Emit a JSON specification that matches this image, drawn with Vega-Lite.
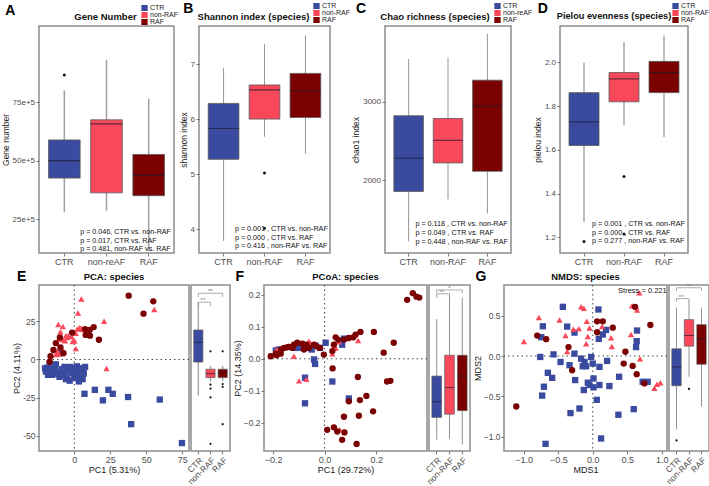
{
"$schema":"https://vega.github.io/schema/vega-lite/v6.json",
"padding":{"left":0,"top":2,"right":0,"bottom":0},
"background":"white",
"datasets":{
"boxA":[{"group":"CTR","lo":27.9,"q1":42.5,"med":50.0,"q3":58.8,"hi":79.9},{"group":"non-RAF","lo":28.6,"q1":36.2,"med":65.7,"q3":67.4,"hi":93.0},{"group":"RAF","lo":11.5,"q1":35.0,"med":43.8,"q3":52.6,"hi":76.4}],
"outA":[{"group":"CTR","v":86.6}],
"pA":[{"group":"CTR","v":19.4,"label":"p = 0.046, CTR vs. non-RAF"},{"group":"CTR","v":15.8,"label":"p = 0.017, CTR vs. RAF"},{"group":"CTR","v":12.3,"label":"p = 0.481, non-RAF vs. RAF"}],
"boxB":[{"group":"CTR","lo":3.79,"q1":5.27,"med":5.83,"q3":6.285,"hi":6.925},{"group":"non-RAF","lo":5.68,"q1":6.0,"med":6.53,"q3":6.62,"hi":7.36},{"group":"RAF","lo":5.37,"q1":6.03,"med":6.51,"q3":6.83,"hi":7.52}],
"outB":[{"group":"non-RAF","v":5.02},{"group":"non-RAF","v":4.02}],
"pB":[{"group":"CTR","v":4.0,"label":"p = 0.001 , CTR vs. non-RAF"},{"group":"CTR","v":3.85,"label":"p = 0.000 , CTR vs. RAF"},{"group":"CTR","v":3.7,"label":"p = 0.416 , non-RAF vs. RAF"}],
"boxC":[{"group":"CTR","lo":1220,"q1":1855,"med":2279,"q3":2820,"hi":3544},{"group":"non-RAF","lo":1755,"q1":2219,"med":2507,"q3":2785,"hi":3566},{"group":"RAF","lo":1575,"q1":2112,"med":2945,"q3":3274,"hi":3866}],
"pC":[{"group":"CTR","v":1434,"label":"p = 0.118 , CTR vs. non-RAF"},{"group":"CTR","v":1327,"label":"p = 0.049 , CTR vs. RAF"},{"group":"CTR","v":1207,"label":"p = 0.448 , non-RAF vs. RAF"}],
"boxD":[{"group":"CTR","lo":1.27,"q1":1.62,"med":1.728,"q3":1.862,"hi":2.0},{"group":"non-RAF","lo":1.713,"q1":1.82,"med":1.925,"q3":1.954,"hi":2.094},{"group":"RAF","lo":1.659,"q1":1.862,"med":1.954,"q3":2.005,"hi":2.124}],
"outD":[{"group":"CTR","v":1.181},{"group":"non-RAF","v":1.478},{"group":"non-RAF","v":1.215}],
"pD":[{"group":"CTR","v":1.263,"label":"p = 0.001 , CTR vs. non-RAF"},{"group":"CTR","v":1.22,"label":"p = 0.000 , CTR vs. RAF"},{"group":"CTR","v":1.181,"label":"p = 0.277 , non-RAF vs. RAF"}],
"boxE":[{"group":"CTR","lo":-23.6,"q1":-1.7,"med":11.2,"q3":19.3,"hi":37.5},{"group":"non-RAF","lo":-14.4,"q1":-11.9,"med":-9.3,"q3":-6.4,"hi":-4.3},{"group":"RAF","lo":-14.0,"q1":-11.9,"med":-8.6,"q3":-6.4,"hi":-4.3}],
"outE":[{"group":"non-RAF","v":5.3},{"group":"non-RAF","v":-16.5},{"group":"non-RAF","v":-19.1},{"group":"non-RAF","v":-24.9},{"group":"non-RAF","v":-55.3},{"group":"RAF","v":5.3},{"group":"RAF","v":-16.1},{"group":"RAF","v":-17.9},{"group":"RAF","v":-42.4}],
"brE":[{"a":"CTR","b":"non-RAF","y":37.5,"y0":35.0,"s":"**"},{"a":"CTR","b":"RAF","y":43.4,"y0":41.0,"s":"**"}],
"boxF":[{"group":"CTR","lo":-0.253,"q1":-0.183,"med":-0.134,"q3":-0.054,"hi":0.124},{"group":"non-RAF","lo":-0.25,"q1":-0.173,"med":-0.09,"q3":0.011,"hi":0.2},{"group":"RAF","lo":-0.268,"q1":-0.162,"med":-0.054,"q3":0.011,"hi":0.19}],
"brF":[{"a":"CTR","b":"non-RAF","y":0.203,"y0":0.19,"s":"**"},{"a":"CTR","b":"RAF","y":0.215,"y0":0.205,"s":"*"}],
"boxG":[{"group":"CTR","lo":-0.91,"q1":-0.368,"med":-0.135,"q3":0.089,"hi":0.6},{"group":"non-RAF","lo":-0.257,"q1":0.122,"med":0.254,"q3":0.45,"hi":0.683},{"group":"RAF","lo":-0.625,"q1":-0.102,"med":0.212,"q3":0.388,"hi":0.6}],
"outG":[{"group":"CTR","v":-1.045},{"group":"non-RAF","v":-0.408}],
"brG":[{"a":"CTR","b":"non-RAF","y":0.71,"y0":0.67,"s":"**"},{"a":"CTR","b":"RAF","y":0.845,"y0":0.805,"s":"**"}],
"scE":[
{"g":"CTR","x":-20.3,"y":-5.8},{"g":"CTR","x":-18.6,"y":-5.4},{"g":"CTR","x":-19.7,"y":-7.9},{"g":"CTR","x":-17.7,"y":-7.1},{"g":"CTR","x":-16.5,"y":-8.6},{"g":"CTR","x":-15.2,"y":-6.6},{"g":"CTR","x":-14.5,"y":-9.2},{"g":"CTR","x":-13.5,"y":-5.8},{"g":"CTR","x":-12.2,"y":-7.9},{"g":"CTR","x":-11.3,"y":-9.6},{"g":"CTR","x":-10.3,"y":-11.4},{"g":"CTR","x":-9.6,"y":4.1},{"g":"CTR","x":-8.5,"y":-6.4},{"g":"CTR","x":-7.7,"y":-8.6},{"g":"CTR","x":-6.8,"y":-4.9},{"g":"CTR","x":-6.2,"y":-10.1},{"g":"CTR","x":-4.9,"y":-11.8},{"g":"CTR","x":-4.1,"y":-7.1},{"g":"CTR","x":-2.8,"y":-4.9},{"g":"CTR","x":-1.5,"y":-8.8},{"g":"CTR","x":-0.6,"y":-5.8},{"g":"CTR","x":0.9,"y":-10.1},{"g":"CTR","x":1.9,"y":-4.5},{"g":"CTR","x":2.8,"y":-7.5},{"g":"CTR","x":3.6,"y":-11.8},{"g":"CTR","x":4.9,"y":-8.4},{"g":"CTR","x":6.0,"y":-5.8},{"g":"CTR","x":6.6,"y":-9.2},{"g":"CTR","x":7.5,"y":-4.9},{"g":"CTR","x":3.2,"y":-14.4},{"g":"CTR","x":7.1,"y":-22.5},{"g":"CTR","x":14.3,"y":-19.9},{"g":"CTR","x":19.9,"y":-26.8},{"g":"CTR","x":23.7,"y":-19.9},{"g":"CTR","x":26.7,"y":-22.5},{"g":"CTR","x":37.4,"y":-24.6},{"g":"CTR","x":59.4,"y":-26.3},{"g":"CTR","x":39.5,"y":-42.4},{"g":"CTR","x":74.8,"y":-54.8},{"g":"CTR","x":-17.1,"y":-3.2},{"g":"CTR","x":-15.6,"y":-10.1},{"g":"CTR","x":-12.8,"y":-3.2},{"g":"CTR","x":-5.8,"y":-12.9},{"g":"CTR","x":-3.2,"y":-13.9},{"g":"CTR","x":0.0,"y":-12.2},{"g":"CTR","x":5.8,"y":-12.9},{"g":"CTR","x":-9.6,"y":-10.1},{"g":"CTR","x":-18.2,"y":-10.1},
{"g":"non-RAF","x":4.9,"y":39.6},{"g":"non-RAF","x":2.6,"y":30.4},{"g":"non-RAF","x":20.7,"y":25.1},{"g":"non-RAF","x":-11.1,"y":22.9},{"g":"non-RAF","x":-7.9,"y":21.6},{"g":"non-RAF","x":3.8,"y":21.0},{"g":"non-RAF","x":2.1,"y":19.9},{"g":"non-RAF","x":4.9,"y":20.3},{"g":"non-RAF","x":5.8,"y":19.7},{"g":"non-RAF","x":1.1,"y":17.1},{"g":"non-RAF","x":-4.1,"y":15.6},{"g":"non-RAF","x":-4.9,"y":14.4},{"g":"non-RAF","x":-1.9,"y":15.0},{"g":"non-RAF","x":0.2,"y":12.2},{"g":"non-RAF","x":-9.6,"y":18.2},{"g":"non-RAF","x":-10.7,"y":13.5},{"g":"non-RAF","x":-7.9,"y":12.9},{"g":"non-RAF","x":-6.4,"y":12.2},{"g":"non-RAF","x":-13.9,"y":6.4},{"g":"non-RAF","x":-11.8,"y":5.4},{"g":"non-RAF","x":-9.6,"y":7.5},{"g":"non-RAF","x":-7.5,"y":5.4},{"g":"non-RAF","x":-12.8,"y":3.2},{"g":"non-RAF","x":-10.7,"y":3.6},{"g":"non-RAF","x":1.1,"y":7.1},{"g":"non-RAF","x":22.4,"y":-6.0},{"g":"non-RAF","x":55.6,"y":32.8},{"g":"non-RAF","x":-1.1,"y":11.8},{"g":"non-RAF","x":-5.8,"y":15.6},
{"g":"RAF","x":-1.5,"y":17.6},{"g":"RAF","x":7.5,"y":19.9},{"g":"RAF","x":10.7,"y":19.3},{"g":"RAF","x":13.5,"y":21.2},{"g":"RAF","x":7.9,"y":16.1},{"g":"RAF","x":10.9,"y":15.6},{"g":"RAF","x":17.1,"y":12.9},{"g":"RAF","x":-10.0,"y":14.4},{"g":"RAF","x":-12.8,"y":10.7},{"g":"RAF","x":-9.6,"y":7.9},{"g":"RAF","x":-14.5,"y":6.2},{"g":"RAF","x":-16.5,"y":2.1},{"g":"RAF","x":-17.1,"y":-1.5},{"g":"RAF","x":-7.5,"y":4.1},{"g":"RAF","x":37.8,"y":41.8},{"g":"RAF","x":48.1,"y":30.0},{"g":"RAF","x":54.9,"y":38.1}],
"scF":[
{"g":"CTR","x":-0.189,"y":0.026},{"g":"CTR","x":-0.177,"y":0.029},{"g":"CTR","x":-0.112,"y":0.034},{"g":"CTR","x":-0.099,"y":0.036},{"g":"CTR","x":-0.073,"y":0.034},{"g":"CTR","x":-0.054,"y":0.042},{"g":"CTR","x":-0.035,"y":0.041},{"g":"CTR","x":-0.018,"y":0.034},{"g":"CTR","x":-0.041,"y":-0.002},{"g":"CTR","x":-0.037,"y":-0.016},{"g":"CTR","x":-0.076,"y":-0.059},{"g":"CTR","x":-0.076,"y":-0.139},{"g":"CTR","x":0.030,"y":-0.071},{"g":"CTR","x":0.094,"y":-0.124},{"g":"CTR","x":0.075,"y":0.063},{"g":"CTR","x":0.068,"y":0.044},{"g":"CTR","x":0.004,"y":0.050},{"g":"CTR","x":-0.086,"y":0.034},{"g":"CTR","x":-0.050,"y":0.029},
{"g":"non-RAF","x":-0.186,"y":0.029},{"g":"non-RAF","x":-0.168,"y":0.034},{"g":"non-RAF","x":-0.141,"y":0.040},{"g":"non-RAF","x":-0.119,"y":0.008},{"g":"non-RAF","x":-0.099,"y":-0.069},{"g":"non-RAF","x":-0.071,"y":-0.064},{"g":"non-RAF","x":-0.061,"y":0.055},{"g":"non-RAF","x":-0.057,"y":0.050},{"g":"non-RAF","x":0.036,"y":0.036},{"g":"non-RAF","x":0.055,"y":0.053},{"g":"non-RAF","x":0.130,"y":0.057},{"g":"non-RAF","x":0.059,"y":-0.222},{"g":"non-RAF","x":0.043,"y":0.034},{"g":"non-RAF","x":0.030,"y":0.016},
{"g":"RAF","x":-0.209,"y":0.008},{"g":"RAF","x":-0.189,"y":0.016},{"g":"RAF","x":-0.186,"y":0.011},{"g":"RAF","x":-0.168,"y":0.029},{"g":"RAF","x":-0.157,"y":0.034},{"g":"RAF","x":-0.144,"y":0.036},{"g":"RAF","x":-0.138,"y":0.037},{"g":"RAF","x":-0.119,"y":0.044},{"g":"RAF","x":-0.106,"y":0.050},{"g":"RAF","x":-0.086,"y":0.047},{"g":"RAF","x":-0.080,"y":0.029},{"g":"RAF","x":-0.070,"y":0.044},{"g":"RAF","x":-0.061,"y":0.034},{"g":"RAF","x":-0.041,"y":0.044},{"g":"RAF","x":-0.031,"y":0.039},{"g":"RAF","x":-0.018,"y":0.034},{"g":"RAF","x":-0.003,"y":0.013},{"g":"RAF","x":0.030,"y":0.024},{"g":"RAF","x":0.036,"y":0.044},{"g":"RAF","x":0.043,"y":0.067},{"g":"RAF","x":0.052,"y":0.060},{"g":"RAF","x":0.075,"y":0.060},{"g":"RAF","x":0.094,"y":0.065},{"g":"RAF","x":0.111,"y":0.067},{"g":"RAF","x":0.120,"y":0.075},{"g":"RAF","x":0.139,"y":0.084},{"g":"RAF","x":0.191,"y":0.084},{"g":"RAF","x":0.229,"y":0.019},{"g":"RAF","x":0.268,"y":0.050},{"g":"RAF","x":0.242,"y":-0.071},{"g":"RAF","x":0.255,"y":-0.069},{"g":"RAF","x":0.320,"y":0.184},{"g":"RAF","x":0.342,"y":0.205},{"g":"RAF","x":0.356,"y":0.194},{"g":"RAF","x":0.367,"y":0.191},{"g":"RAF","x":0.031,"y":-0.030},{"g":"RAF","x":0.010,"y":-0.222},{"g":"RAF","x":0.036,"y":-0.214},{"g":"RAF","x":0.049,"y":-0.227},{"g":"RAF","x":0.075,"y":-0.181},{"g":"RAF","x":0.068,"y":-0.253},{"g":"RAF","x":0.077,"y":-0.230},{"g":"RAF","x":0.124,"y":-0.266},{"g":"RAF","x":0.094,"y":-0.133},{"g":"RAF","x":0.129,"y":-0.057},{"g":"RAF","x":0.137,"y":-0.129},{"g":"RAF","x":0.162,"y":-0.116},{"g":"RAF","x":0.133,"y":-0.178},{"g":"RAF","x":0.188,"y":-0.164},{"g":"RAF","x":-0.170,"y":0.016},{"g":"RAF","x":-0.125,"y":0.034}],
"scG":[
{"g":"CTR","x":-0.434,"y":0.609},{"g":"CTR","x":0.082,"y":0.576},{"g":"CTR","x":-0.723,"y":0.368},{"g":"CTR","x":-0.747,"y":0.233},{"g":"CTR","x":-0.371,"y":0.364},{"g":"CTR","x":-0.265,"y":0.290},{"g":"CTR","x":0.087,"y":0.212},{"g":"CTR","x":0.145,"y":0.266},{"g":"CTR","x":0.193,"y":0.323},{"g":"CTR","x":0.641,"y":0.315},{"g":"CTR","x":0.636,"y":0.184},{"g":"CTR","x":0.627,"y":0.110},{"g":"CTR","x":-0.761,"y":-0.012},{"g":"CTR","x":-0.569,"y":0.020},{"g":"CTR","x":-0.265,"y":0.029},{"g":"CTR","x":-0.169,"y":-0.033},{"g":"CTR","x":-0.024,"y":-0.012},{"g":"CTR","x":-0.120,"y":-0.074},{"g":"CTR","x":-0.145,"y":-0.127},{"g":"CTR","x":-0.337,"y":-0.114},{"g":"CTR","x":-0.467,"y":-0.074},{"g":"CTR","x":-0.651,"y":-0.208},{"g":"CTR","x":-0.588,"y":-0.270},{"g":"CTR","x":-0.708,"y":-0.380},{"g":"CTR","x":-0.733,"y":-0.490},{"g":"CTR","x":-0.255,"y":-0.298},{"g":"CTR","x":-0.130,"y":-0.421},{"g":"CTR","x":-0.072,"y":-0.331},{"g":"CTR","x":-0.048,"y":-0.359},{"g":"CTR","x":0.010,"y":-0.278},{"g":"CTR","x":0.010,"y":-0.388},{"g":"CTR","x":0.096,"y":-0.135},{"g":"CTR","x":0.096,"y":-0.359},{"g":"CTR","x":0.207,"y":-0.061},{"g":"CTR","x":0.241,"y":-0.372},{"g":"CTR","x":0.381,"y":-0.257},{"g":"CTR","x":0.723,"y":-0.319},{"g":"CTR","x":0.795,"y":-0.319},{"g":"CTR","x":0.593,"y":-0.658},{"g":"CTR","x":0.371,"y":-0.727},{"g":"CTR","x":0.058,"y":-0.543},{"g":"CTR","x":-0.193,"y":-0.650},{"g":"CTR","x":-0.323,"y":-0.707},{"g":"CTR","x":0.120,"y":-1.021},{"g":"CTR","x":-0.684,"y":-1.087},{"g":"CTR","x":-0.096,"y":-0.127},{"g":"CTR","x":0.0,"y":-0.094},
{"g":"non-RAF","x":-0.998,"y":0.180},{"g":"non-RAF","x":-0.781,"y":0.478},{"g":"non-RAF","x":-0.482,"y":0.445},{"g":"non-RAF","x":-0.395,"y":0.253},{"g":"non-RAF","x":-0.371,"y":0.057},{"g":"non-RAF","x":-0.280,"y":0.331},{"g":"non-RAF","x":-0.202,"y":0.339},{"g":"non-RAF","x":-0.169,"y":0.609},{"g":"non-RAF","x":-0.130,"y":0.592},{"g":"non-RAF","x":-0.087,"y":0.429},{"g":"non-RAF","x":-0.048,"y":0.347},{"g":"non-RAF","x":-0.096,"y":0.151},{"g":"non-RAF","x":-0.072,"y":0.241},{"g":"non-RAF","x":0.135,"y":0.364},{"g":"non-RAF","x":0.265,"y":0.225},{"g":"non-RAF","x":0.275,"y":0.118},{"g":"non-RAF","x":0.554,"y":0.266},{"g":"non-RAF","x":0.569,"y":0.621},{"g":"non-RAF","x":0.627,"y":0.609},{"g":"non-RAF","x":0.684,"y":-0.033},{"g":"non-RAF","x":0.892,"y":-0.400},{"g":"non-RAF","x":0.930,"y":-0.351},{"g":"non-RAF","x":0.978,"y":-0.331},{"g":"non-RAF","x":0.675,"y":0.784},{"g":"non-RAF","x":0.641,"y":0.568},
{"g":"RAF","x":-0.805,"y":0.253},{"g":"RAF","x":-0.675,"y":0.208},{"g":"RAF","x":-0.352,"y":0.110},{"g":"RAF","x":-0.299,"y":-0.176},{"g":"RAF","x":0.063,"y":0.429},{"g":"RAF","x":0.145,"y":0.429},{"g":"RAF","x":0.289,"y":0.351},{"g":"RAF","x":0.063,"y":0.294},{"g":"RAF","x":0.472,"y":0.053},{"g":"RAF","x":0.448,"y":-0.094},{"g":"RAF","x":0.578,"y":-0.123},{"g":"RAF","x":0.636,"y":-0.225},{"g":"RAF","x":0.747,"y":-0.339},{"g":"RAF","x":0.612,"y":0.609},{"g":"RAF","x":0.834,"y":0.384},{"g":"RAF","x":-1.108,"y":-0.625}]
},
"vconcat":[
{"hconcat":[
 {"title":{"text":"A","anchor":"start","frame":"bounds","offset":-13,"dx":5,"fontSize":14,"fontWeight":"bold","color":"#000"},
  "hconcat":[{"width":135,"height":227,"title":{"text":"Gene Number","anchor":"middle","dx":-1},
  "layer":[
   {"data":{"name":"boxA"},"mark":{"type":"rule","color":"#a0a0a0","strokeWidth":1.5},
    "encoding":{"x":{"field":"group","type":"nominal","sort":null,"scale":{"domain":["CTR","non-RAF","RAF"],"paddingInner":0.25,"paddingOuter":0.225},"axis":{"title":null,"labelAngle":0,"labelFontSize":9,"labelExpr":"datum.value == 'non-RAF' ? 'non-reAF' : datum.value"}},
     "y":{"field":"lo","type":"quantitative","scale":{"domain":[10.5,107.5],"nice":false,"zero":false},"axis":{"title":"Gene number","values":[25,50,75],"labelExpr":"datum.value + 'e+5'"}},
     "y2":{"field":"hi"}}},
   {"data":{"name":"boxA"},"mark":{"type":"bar","stroke":"#5a5a5a","strokeWidth":0.8},
    "encoding":{"x":{"field":"group","type":"nominal","sort":null},"y":{"field":"q1","type":"quantitative"},"y2":{"field":"q3"},
     "color":{"field":"group","type":"nominal","sort":null,"scale":{"domain":["CTR","non-RAF","RAF"],"range":["#3A4A9F","#F9485A","#7B0000"]},
      "legend":{"title":null,"orient":"none","legendX":102,"legendY":-21,"symbolType":"square","symbolSize":40,"symbolStrokeWidth":0,"labelFontSize":7,"labelColor":"#222","clipHeight":6,"rowPadding":0,"labelOffset":2,"padding":0}}}},
   {"data":{"name":"boxA"},"mark":{"type":"tick","color":"#1b1b2f","thickness":1.3,"size":31.6},
    "encoding":{"x":{"field":"group","type":"nominal","sort":null},"y":{"field":"med","type":"quantitative"}}},
   {"data":{"name":"outA"},"mark":{"type":"circle","size":9,"color":"#111","opacity":1},
    "encoding":{"x":{"field":"group","type":"nominal","sort":null},"y":{"field":"v","type":"quantitative"}}},
   {"data":{"name":"pA"},"mark":{"type":"text","align":"left","baseline":"middle","fontSize":7.2,"fill":"#111","dx":0},
    "encoding":{"x":{"field":"group","type":"nominal","sort":null,"bandPosition":1},"y":{"field":"v","type":"quantitative"},"text":{"field":"label"}}}
  ]}]},
 {"title":{"text":"B","anchor":"start","frame":"bounds","offset":-13,"dx":5,"fontSize":14,"fontWeight":"bold","color":"#000"},
  "hconcat":[{"width":131,"height":227,"title":{"text":"Shannon index (species)","anchor":"middle","dx":-11},
  "layer":[
   {"data":{"name":"boxB"},"mark":{"type":"rule","color":"#8a8a8a","strokeWidth":0.9},
    "encoding":{"x":{"field":"group","type":"nominal","sort":null,"scale":{"domain":["CTR","non-RAF","RAF"],"paddingInner":0.25,"paddingOuter":0.225},"axis":{"title":null,"labelAngle":0,"labelFontSize":9}},
     "y":{"field":"lo","type":"quantitative","scale":{"domain":[3.57,7.69],"nice":false,"zero":false},"axis":{"title":"shannon index","values":[4,5,6,7],"format":"d"}},
     "y2":{"field":"hi"}}},
   {"data":{"name":"boxB"},"mark":{"type":"bar","stroke":"#5a5a5a","strokeWidth":0.8},
    "encoding":{"x":{"field":"group","type":"nominal","sort":null},"y":{"field":"q1","type":"quantitative"},"y2":{"field":"q3"},
     "color":{"field":"group","type":"nominal","sort":null,"scale":{"domain":["CTR","non-RAF","RAF"],"range":["#3A4A9F","#F9485A","#7B0000"]},
      "legend":{"title":null,"orient":"none","legendX":114,"legendY":-23,"symbolType":"square","symbolSize":40,"symbolStrokeWidth":0,"labelFontSize":7,"labelColor":"#222","clipHeight":6,"rowPadding":0,"labelOffset":2,"padding":0}}}},
   {"data":{"name":"boxB"},"mark":{"type":"tick","color":"#1b1b2f","thickness":1.1,"size":30.7},
    "encoding":{"x":{"field":"group","type":"nominal","sort":null},"y":{"field":"med","type":"quantitative"}}},
   {"data":{"name":"outB"},"mark":{"type":"circle","size":9,"color":"#111","opacity":1},
    "encoding":{"x":{"field":"group","type":"nominal","sort":null},"y":{"field":"v","type":"quantitative"}}},
   {"data":{"name":"pB"},"mark":{"type":"text","align":"left","baseline":"middle","fontSize":7.2,"fill":"#111","dx":-4},
    "encoding":{"x":{"field":"group","type":"nominal","sort":null,"bandPosition":1},"y":{"field":"v","type":"quantitative"},"text":{"field":"label"}}}
  ]}]},
 {"title":{"text":"C","anchor":"start","frame":"bounds","offset":-13,"dx":5,"fontSize":14,"fontWeight":"bold","color":"#000"},
  "hconcat":[{"width":126,"height":227,"title":{"text":"Chao richness (species)","anchor":"middle","dx":-13},
  "layer":[
   {"data":{"name":"boxC"},"mark":{"type":"rule","color":"#8a8a8a","strokeWidth":0.9},
    "encoding":{"x":{"field":"group","type":"nominal","sort":null,"scale":{"domain":["CTR","non-RAF","RAF"],"paddingInner":0.25,"paddingOuter":0.225},"axis":{"title":null,"labelAngle":0,"labelFontSize":9}},
     "y":{"field":"lo","type":"quantitative","scale":{"domain":[1070,3965],"nice":false,"zero":false},"axis":{"title":"chao1 index","values":[2000,3000],"format":"d"}},
     "y2":{"field":"hi"}}},
   {"data":{"name":"boxC"},"mark":{"type":"bar","stroke":"#5a5a5a","strokeWidth":0.8},
    "encoding":{"x":{"field":"group","type":"nominal","sort":null},"y":{"field":"q1","type":"quantitative"},"y2":{"field":"q3"},
     "color":{"field":"group","type":"nominal","sort":null,"scale":{"domain":["CTR","non-RAF","RAF"],"range":["#3A4A9F","#F9485A","#7B0000"]},
      "legend":{"title":null,"orient":"none","legendX":109,"legendY":-23,"symbolType":"square","symbolSize":40,"symbolStrokeWidth":0,"labelFontSize":7,"labelColor":"#222","clipHeight":6,"rowPadding":0,"labelOffset":2,"padding":0,"labelExpr":"datum.value == 'non-RAF' ? 'non-reAF' : datum.value"}}}},
   {"data":{"name":"boxC"},"mark":{"type":"tick","color":"#1b1b2f","thickness":1.1,"size":29.5},
    "encoding":{"x":{"field":"group","type":"nominal","sort":null},"y":{"field":"med","type":"quantitative"}}},
   {"data":{"name":"pC"},"mark":{"type":"text","align":"left","baseline":"middle","fontSize":7.2,"fill":"#111","dx":-8},
    "encoding":{"x":{"field":"group","type":"nominal","sort":null,"bandPosition":1},"y":{"field":"v","type":"quantitative"},"text":{"field":"label"}}}
  ]}]},
 {"title":{"text":"D","anchor":"start","frame":"bounds","offset":-13,"dx":5,"fontSize":14,"fontWeight":"bold","color":"#000"},
  "hconcat":[{"width":128,"height":227,"title":{"text":"Pielou evenness (species)","anchor":"middle","dx":-10,"fontSize":9.2},
  "layer":[
   {"data":{"name":"boxD"},"mark":{"type":"rule","color":"#a8a8a8","strokeWidth":1.5},
    "encoding":{"x":{"field":"group","type":"nominal","sort":null,"scale":{"domain":["CTR","non-RAF","RAF"],"paddingInner":0.25,"paddingOuter":0.225},"axis":{"title":null,"labelAngle":0,"labelFontSize":9}},
     "y":{"field":"lo","type":"quantitative","scale":{"domain":[1.128,2.167],"nice":false,"zero":false},"axis":{"title":"pielou index","values":[1.2,1.4,1.6,1.8,2.0],"format":".1f"}},
     "y2":{"field":"hi"}}},
   {"data":{"name":"boxD"},"mark":{"type":"bar","stroke":"#5a5a5a","strokeWidth":0.8},
    "encoding":{"x":{"field":"group","type":"nominal","sort":null},"y":{"field":"q1","type":"quantitative"},"y2":{"field":"q3"},
     "color":{"field":"group","type":"nominal","sort":null,"scale":{"domain":["CTR","non-RAF","RAF"],"range":["#3A4A9F","#F9485A","#7B0000"]},
      "legend":{"title":null,"orient":"none","legendX":112,"legendY":-23,"symbolType":"square","symbolSize":40,"symbolStrokeWidth":0,"labelFontSize":7,"labelColor":"#222","clipHeight":6,"rowPadding":0,"labelOffset":2,"padding":0}}}},
   {"data":{"name":"boxD"},"mark":{"type":"tick","color":"#1b1b2f","thickness":1.1,"size":30},
    "encoding":{"x":{"field":"group","type":"nominal","sort":null},"y":{"field":"med","type":"quantitative"}}},
   {"data":{"name":"outD"},"mark":{"type":"circle","size":9,"color":"#111","opacity":1},
    "encoding":{"x":{"field":"group","type":"nominal","sort":null},"y":{"field":"v","type":"quantitative"}}},
   {"data":{"name":"pD"},"mark":{"type":"text","align":"left","baseline":"middle","fontSize":7.2,"fill":"#111","dx":-7},
    "encoding":{"x":{"field":"group","type":"nominal","sort":null,"bandPosition":1},"y":{"field":"v","type":"quantitative"},"text":{"field":"label"}}}
  ]}]}
 ],"spacing":-1,"resolve":{"scale":{"color":"independent"},"legend":{"color":"independent"}}},
{"hconcat":[
 {"title":{"text":"E","anchor":"start","frame":"bounds","offset":-13,"dx":5,"fontSize":14,"fontWeight":"bold","color":"#000"},
  "spacing":-22,
  "hconcat":[
   {"width":150,"height":166,"title":{"text":"PCA: species","anchor":"middle","offset":3},
    "layer":[
     {"data":{"values":[{"z":0}]},"mark":{"type":"rule","color":"#444","strokeDash":[1.5,3],"strokeWidth":1},
      "encoding":{"x":{"field":"z","type":"quantitative","scale":{"domain":[-24.5,79.7],"nice":false,"zero":false},"axis":{"title":"PC1 (5.31%)","values":[0,25,50,75],"labelFontSize":9,"titleFontSize":9,"labelPadding":1,"titlePadding":1}}}},
     {"data":{"values":[{"z":0}]},"mark":{"type":"rule","color":"#444","strokeDash":[1.5,3],"strokeWidth":1},
      "encoding":{"y":{"field":"z","type":"quantitative","scale":{"domain":[-60,48.8],"nice":false,"zero":false},"axis":{"title":"PC2 (4.11%)","values":[-50,-25,0,25],"labelExpr":"replace(datum.label, '−', '-')","labelFontSize":8.5,"titleFontSize":9,"labelPadding":1,"titlePadding":1}}}},
     {"data":{"name":"scE"},"mark":{"type":"point","filled":true,"size":40,"opacity":1},
      "encoding":{"x":{"field":"x","type":"quantitative"},"y":{"field":"y","type":"quantitative"},
       "color":{"field":"g","type":"nominal","scale":{"domain":["CTR","non-RAF","RAF"],"range":["#3A4A9F","#F9485A","#7B0000"]},"legend":null},
       "shape":{"field":"g","type":"nominal","scale":{"domain":["CTR","non-RAF","RAF"],"range":["square","triangle-up","circle"]},"legend":null}}}
    ]},
   {"width":39,"height":166,
    "layer":[
     {"data":{"name":"boxE"},"mark":{"type":"rule","color":"#a0a0a0","strokeWidth":1.3},
      "encoding":{"x":{"field":"group","type":"nominal","sort":null,"scale":{"domain":["CTR","non-RAF","RAF"],"paddingInner":0.25,"paddingOuter":0.225},"axis":{"title":null,"labelAngle":-45,"labelFontSize":8.5}},
       "y":{"field":"lo","type":"quantitative","scale":{"domain":[-60,48.8],"nice":false,"zero":false},"axis":null},"y2":{"field":"hi"}}},
     {"data":{"name":"boxE"},"mark":{"type":"bar","stroke":"#5a5a5a","strokeWidth":0.7},
      "encoding":{"x":{"field":"group","type":"nominal","sort":null},"y":{"field":"q1","type":"quantitative","axis":null},"y2":{"field":"q3"},
       "color":{"field":"group","type":"nominal","scale":{"domain":["CTR","non-RAF","RAF"],"range":["#3A4A9F","#F9485A","#7B0000"]},"legend":null}}},
     {"data":{"name":"boxE"},"mark":{"type":"tick","color":"#1b1b2f","thickness":1,"size":9.2},
      "encoding":{"x":{"field":"group","type":"nominal","sort":null},"y":{"field":"med","type":"quantitative","axis":null}}},
     {"data":{"name":"outE"},"mark":{"type":"circle","size":5,"color":"#111","opacity":1},
      "encoding":{"x":{"field":"group","type":"nominal","sort":null},"y":{"field":"v","type":"quantitative","axis":null}}},
     {"data":{"name":"brE"},"mark":{"type":"rule","color":"#888","strokeWidth":0.7},
      "encoding":{"x":{"field":"a","type":"nominal"},"x2":{"field":"b"},"y":{"field":"y","type":"quantitative","axis":null}}},
     {"data":{"name":"brE"},"mark":{"type":"rule","color":"#888","strokeWidth":0.7},
      "encoding":{"x":{"field":"a","type":"nominal"},"y":{"field":"y","type":"quantitative","axis":null},"y2":{"field":"y0"}}},
     {"data":{"name":"brE"},"mark":{"type":"rule","color":"#888","strokeWidth":0.7},
      "encoding":{"x":{"field":"b","type":"nominal"},"y":{"field":"y","type":"quantitative","axis":null},"y2":{"field":"y0"}}},
     {"data":{"name":"brE"},"transform":[{"filter":"datum.b == 'non-RAF'"}],"mark":{"type":"text","baseline":"bottom","fontSize":6,"fill":"#777","dy":1},
      "encoding":{"x":{"field":"a","type":"nominal","bandPosition":1},"y":{"field":"y","type":"quantitative","axis":null},"text":{"field":"s"}}},
     {"data":{"name":"brE"},"transform":[{"filter":"datum.b == 'RAF'"}],"mark":{"type":"text","baseline":"bottom","fontSize":6,"fill":"#777","dy":1},
      "encoding":{"x":{"datum":"non-RAF","type":"nominal"},"y":{"field":"y","type":"quantitative","axis":null},"text":{"field":"s"}}}
    ]}
  ]},
 {"title":{"text":"F","anchor":"start","frame":"bounds","offset":-13,"dx":3,"fontSize":14,"fontWeight":"bold","color":"#000"},
  "spacing":-22,
  "hconcat":[
   {"width":163,"height":166,"title":{"text":"PCoA: species","anchor":"middle","offset":3},
    "layer":[
     {"data":{"values":[{"z":0}]},"mark":{"type":"rule","color":"#444","strokeDash":[1.5,3],"strokeWidth":1},
      "encoding":{"x":{"field":"z","type":"quantitative","scale":{"domain":[-0.235,0.397],"nice":false,"zero":false},"axis":{"title":"PC1 (29.72%)","values":[-0.2,0,0.2],"format":".1f","labelFontSize":9,"titleFontSize":9,"labelPadding":1,"titlePadding":1}}}},
     {"data":{"values":[{"z":0}]},"mark":{"type":"rule","color":"#444","strokeDash":[1.5,3],"strokeWidth":1},
      "encoding":{"y":{"field":"z","type":"quantitative","scale":{"domain":[-0.288,0.2304],"nice":false,"zero":false},"axis":{"title":"PC2 (14.35%)","values":[-0.2,-0.1,0,0.1,0.2],"format":".1f","labelFontSize":8.5,"titleFontSize":9,"labelPadding":1,"titlePadding":1}}}},
     {"data":{"name":"scF"},"mark":{"type":"point","filled":true,"size":40,"opacity":1},
      "encoding":{"x":{"field":"x","type":"quantitative"},"y":{"field":"y","type":"quantitative"},
       "color":{"field":"g","type":"nominal","scale":{"domain":["CTR","non-RAF","RAF"],"range":["#3A4A9F","#F9485A","#7B0000"]},"legend":null},
       "shape":{"field":"g","type":"nominal","scale":{"domain":["CTR","non-RAF","RAF"],"range":["square","triangle-up","circle"]},"legend":null}}}
    ]},
   {"width":41,"height":166,
    "layer":[
     {"data":{"name":"boxF"},"mark":{"type":"rule","color":"#777","strokeWidth":0.8},
      "encoding":{"x":{"field":"group","type":"nominal","sort":null,"scale":{"domain":["CTR","non-RAF","RAF"],"paddingInner":0.25,"paddingOuter":0.225},"axis":{"title":null,"labelAngle":-45,"labelFontSize":8.5}},
       "y":{"field":"lo","type":"quantitative","scale":{"domain":[-0.288,0.2304],"nice":false,"zero":false},"axis":null},"y2":{"field":"hi"}}},
     {"data":{"name":"boxF"},"mark":{"type":"bar","stroke":"#5a5a5a","strokeWidth":0.7},
      "encoding":{"x":{"field":"group","type":"nominal","sort":null},"y":{"field":"q1","type":"quantitative","axis":null},"y2":{"field":"q3"},
       "color":{"field":"group","type":"nominal","scale":{"domain":["CTR","non-RAF","RAF"],"range":["#3A4A9F","#F9485A","#7B0000"]},"legend":null}}},
     {"data":{"name":"boxF"},"mark":{"type":"tick","color":"#1b1b2f","thickness":1,"size":9.6},
      "encoding":{"x":{"field":"group","type":"nominal","sort":null},"y":{"field":"med","type":"quantitative","axis":null}}},
     {"data":{"name":"brF"},"mark":{"type":"rule","color":"#888","strokeWidth":0.7},
      "encoding":{"x":{"field":"a","type":"nominal"},"x2":{"field":"b"},"y":{"field":"y","type":"quantitative","axis":null}}},
     {"data":{"name":"brF"},"mark":{"type":"rule","color":"#888","strokeWidth":0.7},
      "encoding":{"x":{"field":"a","type":"nominal"},"y":{"field":"y","type":"quantitative","axis":null},"y2":{"field":"y0"}}},
     {"data":{"name":"brF"},"mark":{"type":"rule","color":"#888","strokeWidth":0.7},
      "encoding":{"x":{"field":"b","type":"nominal"},"y":{"field":"y","type":"quantitative","axis":null},"y2":{"field":"y0"}}},
     {"data":{"name":"brF"},"transform":[{"filter":"datum.b == 'non-RAF'"}],"mark":{"type":"text","baseline":"bottom","fontSize":6,"fill":"#777","dy":1},
      "encoding":{"x":{"field":"a","type":"nominal","bandPosition":1},"y":{"field":"y","type":"quantitative","axis":null},"text":{"field":"s"}}},
     {"data":{"name":"brF"},"transform":[{"filter":"datum.b == 'RAF'"}],"mark":{"type":"text","baseline":"bottom","fontSize":6,"fill":"#777","dy":1},
      "encoding":{"x":{"datum":"non-RAF","type":"nominal"},"y":{"field":"y","type":"quantitative","axis":null},"text":{"field":"s"}}}
    ]}
  ]},
 {"title":{"text":"G","anchor":"start","frame":"bounds","offset":-13,"dx":3,"fontSize":14,"fontWeight":"bold","color":"#000"},
  "spacing":-22,
  "hconcat":[
   {"width":163,"height":166,"title":{"text":"NMDS: species","anchor":"middle","offset":3},
    "layer":[
     {"data":{"values":[{"z":0}]},"mark":{"type":"rule","color":"#444","strokeDash":[1.5,3],"strokeWidth":1},
      "encoding":{"x":{"field":"z","type":"quantitative","scale":{"domain":[-1.286,1.075],"nice":false,"zero":false},"axis":{"title":"MDS1","values":[-1,-0.5,0,0.5,1],"format":".1f","labelFontSize":9,"titleFontSize":9,"labelPadding":1,"titlePadding":1}}}},
     {"data":{"values":[{"z":0}]},"mark":{"type":"rule","color":"#444","strokeDash":[1.5,3],"strokeWidth":1},
      "encoding":{"y":{"field":"z","type":"quantitative","scale":{"domain":[-1.176,0.879],"nice":false,"zero":false},"axis":{"title":"MDS2","values":[-1,-0.5,0,0.5],"format":".1f","labelFontSize":8.5,"titleFontSize":9,"labelPadding":1,"titlePadding":1}}}},
     {"data":{"name":"scG"},"mark":{"type":"point","filled":true,"size":40,"opacity":1},
      "encoding":{"x":{"field":"x","type":"quantitative"},"y":{"field":"y","type":"quantitative"},
       "color":{"field":"g","type":"nominal","scale":{"domain":["CTR","non-RAF","RAF"],"range":["#3A4A9F","#F9485A","#7B0000"]},"legend":null},
       "shape":{"field":"g","type":"nominal","scale":{"domain":["CTR","non-RAF","RAF"],"range":["square","triangle-up","circle"]},"legend":null}}},
     {"data":{"values":[{"x":1.07,"y":0.8,"t":"Stress = 0.221"}]},"mark":{"type":"text","align":"right","baseline":"middle","fontSize":7.5,"fill":"#111"},
      "encoding":{"x":{"field":"x","type":"quantitative"},"y":{"field":"y","type":"quantitative"},"text":{"field":"t"}}}
    ]},
   {"width":40,"height":166,
    "layer":[
     {"data":{"name":"boxG"},"mark":{"type":"rule","color":"#777","strokeWidth":0.8},
      "encoding":{"x":{"field":"group","type":"nominal","sort":null,"scale":{"domain":["CTR","non-RAF","RAF"],"paddingInner":0.25,"paddingOuter":0.225},"axis":{"title":null,"labelAngle":-45,"labelFontSize":8.5}},
       "y":{"field":"lo","type":"quantitative","scale":{"domain":[-1.176,0.879],"nice":false,"zero":false},"axis":null},"y2":{"field":"hi"}}},
     {"data":{"name":"boxG"},"mark":{"type":"bar","stroke":"#5a5a5a","strokeWidth":0.7},
      "encoding":{"x":{"field":"group","type":"nominal","sort":null},"y":{"field":"q1","type":"quantitative","axis":null},"y2":{"field":"q3"},
       "color":{"field":"group","type":"nominal","scale":{"domain":["CTR","non-RAF","RAF"],"range":["#3A4A9F","#F9485A","#7B0000"]},"legend":null}}},
     {"data":{"name":"boxG"},"mark":{"type":"tick","color":"#1b1b2f","thickness":1,"size":9.4},
      "encoding":{"x":{"field":"group","type":"nominal","sort":null},"y":{"field":"med","type":"quantitative","axis":null}}},
     {"data":{"name":"outG"},"mark":{"type":"circle","size":5,"color":"#111","opacity":1},
      "encoding":{"x":{"field":"group","type":"nominal","sort":null},"y":{"field":"v","type":"quantitative","axis":null}}},
     {"data":{"name":"brG"},"mark":{"type":"rule","color":"#888","strokeWidth":0.7},
      "encoding":{"x":{"field":"a","type":"nominal"},"x2":{"field":"b"},"y":{"field":"y","type":"quantitative","axis":null}}},
     {"data":{"name":"brG"},"mark":{"type":"rule","color":"#888","strokeWidth":0.7},
      "encoding":{"x":{"field":"a","type":"nominal"},"y":{"field":"y","type":"quantitative","axis":null},"y2":{"field":"y0"}}},
     {"data":{"name":"brG"},"mark":{"type":"rule","color":"#888","strokeWidth":0.7},
      "encoding":{"x":{"field":"b","type":"nominal"},"y":{"field":"y","type":"quantitative","axis":null},"y2":{"field":"y0"}}},
     {"data":{"name":"brG"},"transform":[{"filter":"datum.b == 'non-RAF'"}],"mark":{"type":"text","baseline":"bottom","fontSize":6,"fill":"#777","dy":1},
      "encoding":{"x":{"field":"a","type":"nominal","bandPosition":1},"y":{"field":"y","type":"quantitative","axis":null},"text":{"field":"s"}}},
     {"data":{"name":"brG"},"transform":[{"filter":"datum.b == 'RAF'"}],"mark":{"type":"text","baseline":"bottom","fontSize":6,"fill":"#777","dy":1},
      "encoding":{"x":{"datum":"non-RAF","type":"nominal"},"y":{"field":"y","type":"quantitative","axis":null},"text":{"field":"s"}}}
    ]}
  ]}
 ],"spacing":1,"resolve":{"scale":{"color":"independent","shape":"independent"},"legend":{"color":"independent","shape":"independent"}}}
],
"spacing":2,
"config":{
 "font":"Liberation Sans",
 "view":{"stroke":"#8c8c8c","strokeWidth":1.5},
 "axis":{"domain":false,"grid":false,"labelFontSize":8,"labelColor":"#4d4d4d","tickColor":"#5a5a5a","tickSize":3,"tickWidth":0.8,"titleFontSize":8.5,"titleFontWeight":"normal","titleColor":"#1a1a1a","labelPadding":1.5,"titlePadding":2},
 "title":{"fontSize":9.5,"fontWeight":"bold","color":"#111","offset":5}
}
}
